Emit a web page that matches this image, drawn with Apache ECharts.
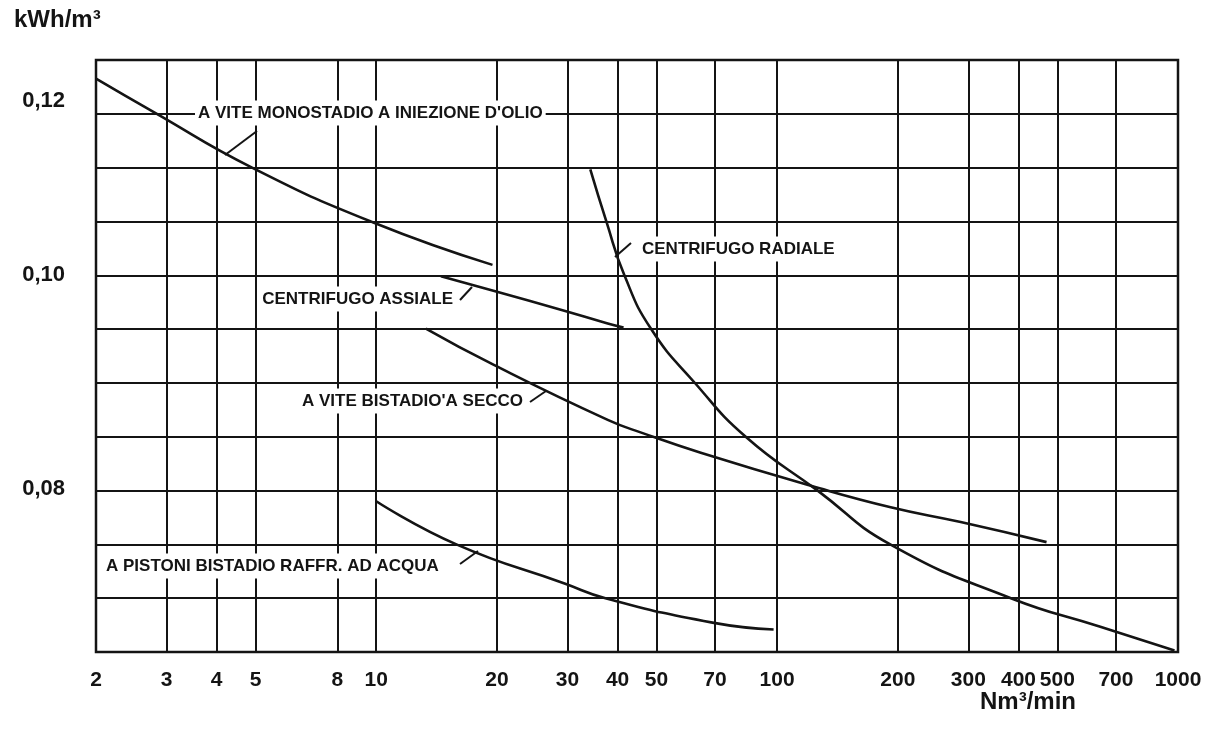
<!DOCTYPE html>
<html>
<head>
<meta charset="utf-8">
<script src="https://cdn.jsdelivr.net/npm/echarts@6/dist/echarts.min.js"></script>
<style>
html,body{margin:0;padding:0;background:#fff;}
#chart{width:1222px;height:729px;}
</style>
</head>
<body>
<div id="chart"></div>
<script>
// ---- data (x: Nm³/min, log scale; y: kWh/m³, log scale) ----
const xTicks = [2, 3, 4, 5, 8, 10, 20, 30, 40, 50, 70, 100, 200, 300, 400, 500, 700, 1000];
const yLabels = [0.08, 0.10, 0.12];
// horizontal rulings of the original chart (equally spaced)
const yGridTicks = [0.1252, 0.11835, 0.11189, 0.10578, 0.10, 0.09454, 0.08938, 0.08450, 0.07988, 0.07552, 0.07140, 0.0675];

const monostadioOlio = [[2, 0.1228], [2.76, 0.1187], [4.9, 0.1119], [9.8, 0.1057], [19.5, 0.1011]];
const centrifugoAssiale = [[14.5, 0.0999], [19.6, 0.0984], [29.3, 0.0964], [37.8, 0.0951], [41.4, 0.0947]];
const bistadioSecco = [[13.3, 0.0946], [19.6, 0.0911], [37.8, 0.0860], [46.4, 0.0848], [64.5, 0.0831], [121, 0.0803], [192, 0.0785], [287, 0.0773], [470, 0.0757]];
const centrifugoRadiale = [[34.2, 0.1117], [37.5, 0.1058], [41.6, 0.1000], [48.6, 0.0945], [62.3, 0.0894], [83.5, 0.0845], [126, 0.0799], [192, 0.0755], [383, 0.0714], [640, 0.0693], [980, 0.0676]];
const pistoniAcqua = [[10, 0.0790], [15.9, 0.0755], [29.5, 0.0725], [37.3, 0.0714], [69, 0.0696], [98, 0.0691]];

const seriesNames = [
  'A VITE MONOSTADIO A INIEZIONE D\'OLIO',
  'CENTRIFUGO ASSIALE',
  'A VITE BISTADIO\'A SECCO',
  'CENTRIFUGO RADIALE',
  'A PISTONI BISTADIO RAFFR. AD ACQUA'
];
const seriesData = [monostadioOlio, centrifugoAssiale, bistadioSecco, centrifugoRadiale, pistoniAcqua];

// ---- chart ----
const INK = '#141414';
const FONT = '"Liberation Sans", Arial, sans-serif';

const chart = echarts.init(document.getElementById('chart'), null, {renderer: 'canvas'});

const annFont = 'bold 17px ' + FONT;
const annBox = {fill: INK, font: annFont, textVerticalAlign: 'middle', backgroundColor: '#fff', padding: [4, 3, 4, 3]};
const option = {
  backgroundColor: '#ffffff',
  animation: false,
  grid: {left: 96, right: 44, top: 60, bottom: 77, show: true, borderColor: INK, borderWidth: 2.5, backgroundColor: 'transparent'},
  xAxis: {
    type: 'log', logBase: 10, min: 2, max: 1000,
    axisLine: {show: false},
    axisTick: {show: false, customValues: xTicks},
    axisLabel: {customValues: xTicks, color: INK, fontFamily: FONT, fontWeight: 'bold', fontSize: 21, margin: 18,
      formatter: v => String(Math.round(v))},
    splitLine: {show: true, lineStyle: {color: INK, width: 2}},
    minorSplitLine: {show: false}
  },
  yAxis: {
    type: 'log', logBase: 10,
    min: yGridTicks[yGridTicks.length - 1], max: yGridTicks[0],
    axisLine: {show: false},
    axisTick: {show: false, customValues: yGridTicks},
    axisLabel: {
      customValues: yLabels,
      color: INK, fontFamily: FONT, fontWeight: 'bold', fontSize: 22, margin: 31,
      formatter: v => v.toFixed(2).replace('.', ',')
    },
    splitLine: {show: true, lineStyle: {color: INK, width: 2}}
  },
  series: seriesData.map((d, i) => ({
    name: seriesNames[i], type: 'line', data: d,
    showSymbol: false, symbol: 'none', smooth: 0.5,
    lineStyle: {color: INK, width: 2.6}, z: 5, silent: true
  })),
  graphic: [
    {type: 'text', left: 14, top: 8, z: 100, style: {text: 'kWh/m³', font: 'bold 24px ' + FONT, fill: INK}},
    {type: 'text', left: 980, top: 690, z: 100, style: {text: 'Nm³/min', font: 'bold 24px ' + FONT, fill: INK}},

    {type: 'text', z: 100, style: Object.assign({x: 195, y: 113, text: seriesNames[0]}, annBox)},
    {type: 'line', z: 100, shape: {x1: 225, y1: 155, x2: 257, y2: 131}, style: {stroke: INK, lineWidth: 2}},

    {type: 'text', z: 100, style: Object.assign({x: 456, y: 299, text: seriesNames[1], textAlign: 'right'}, annBox)},
    {type: 'line', z: 100, shape: {x1: 460, y1: 300, x2: 472, y2: 287}, style: {stroke: INK, lineWidth: 2}},

    {type: 'text', z: 100, style: Object.assign({x: 639, y: 249, text: seriesNames[3]}, annBox)},
    {type: 'line', z: 100, shape: {x1: 615, y1: 257, x2: 631, y2: 243}, style: {stroke: INK, lineWidth: 2}},

    {type: 'text', z: 100, style: Object.assign({x: 526, y: 401, text: seriesNames[2], textAlign: 'right'}, annBox)},
    {type: 'line', z: 100, shape: {x1: 530, y1: 402, x2: 546, y2: 391}, style: {stroke: INK, lineWidth: 2}},

    {type: 'text', z: 100, style: Object.assign({x: 103, y: 566, text: seriesNames[4]}, annBox)},
    {type: 'line', z: 100, shape: {x1: 460, y1: 564, x2: 478, y2: 551}, style: {stroke: INK, lineWidth: 2}}
  ]
};
chart.setOption(option);
</script>
</body>
</html>
